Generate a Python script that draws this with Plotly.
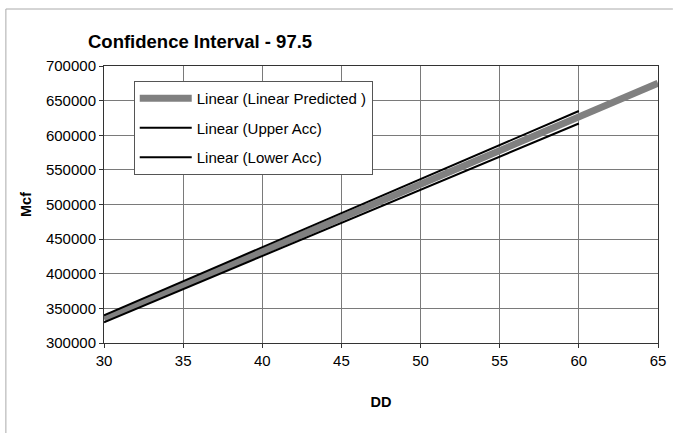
import plotly.graph_objects as go

# Trend-line endpoints
x_pred = [30, 65]
y_pred = [335000, 675000]
x_acc = [30, 60]
y_upper = [340000, 635000]
y_lower = [330000, 617000]

x_ticks = [30, 35, 40, 45, 50, 55, 60, 65]
y_ticks = [300000, 350000, 400000, 450000, 500000, 550000, 600000, 650000, 700000]

FONT = "Arial, Liberation Sans, sans-serif"
W, H = 678, 433
L, R, T, B = 104, 15, 66, 90
pw, ph = W - L - R, H - T - B

def px(xp):
    return (xp - L) / pw

def py(yp):
    return (H - B - yp) / ph

fig = go.Figure()
fig.add_trace(go.Scatter(x=x_pred, y=y_pred, mode="lines", name="Linear (Linear Predicted )",
                         line=dict(color="#808080", width=7), legendgroup="a"))
fig.add_trace(go.Scatter(x=x_acc, y=y_upper, mode="lines", name="Linear (Upper Acc)",
                         line=dict(color="#000000", width=2), legendgroup="b"))
fig.add_trace(go.Scatter(x=x_acc, y=y_lower, mode="lines", name="Linear (Lower Acc)",
                         line=dict(color="#000000", width=2), legendgroup="c"))

fig.update_layout(
    width=W, height=H,
    margin=dict(l=L, r=R, t=T, b=B),
    paper_bgcolor="white", plot_bgcolor="white",
    font=dict(family=FONT, size=15, color="black"),
    title=dict(text="<b>Confidence Interval - 97.5</b>", x=88 / W, xanchor="left",
               y=1 - 42 / H, yanchor="middle", font=dict(size=18.5, family=FONT)),
    showlegend=True,
    legend=dict(x=px(134), y=py(81), xanchor="left", yanchor="top",
                bgcolor="white", bordercolor="#555555", borderwidth=1,
                tracegroupgap=7, itemwidth=52,
                font=dict(size=15, family=FONT)),
    xaxis=dict(range=[30, 65], tickvals=x_ticks, showgrid=True, gridcolor="#7a7a7a", gridwidth=1,
               showline=True, linecolor="#333333", linewidth=1, mirror=True,
               ticks="outside", ticklen=4, tickcolor="#333333", zeroline=False,
               title=dict(text="<b>DD</b>", standoff=28, font=dict(size=14.5))),
    yaxis=dict(range=[300000, 700000], tickvals=y_ticks, tickformat="d", showgrid=True,
               gridcolor="#7a7a7a", gridwidth=1,
               showline=True, linecolor="#333333", linewidth=1, mirror=True,
               ticks="outside", ticklen=4, tickcolor="#333333", zeroline=False,
               title=dict(text="<b>Mcf</b>", standoff=10, font=dict(size=14.5))),
    shapes=[
        dict(type="line", xref="paper", yref="paper", x0=px(5), x1=px(678), y0=py(9), y1=py(9),
             line=dict(color="#aaaaaa", width=1)),
        dict(type="line", xref="paper", yref="paper", x0=px(5), x1=px(5), y0=py(9), y1=py(433),
             line=dict(color="#aaaaaa", width=1)),
    ],
)

fig.write_html("out.html", config={"displayModeBar": False},
               post_script="document.body.style.margin='0';document.body.style.overflow='hidden';")
